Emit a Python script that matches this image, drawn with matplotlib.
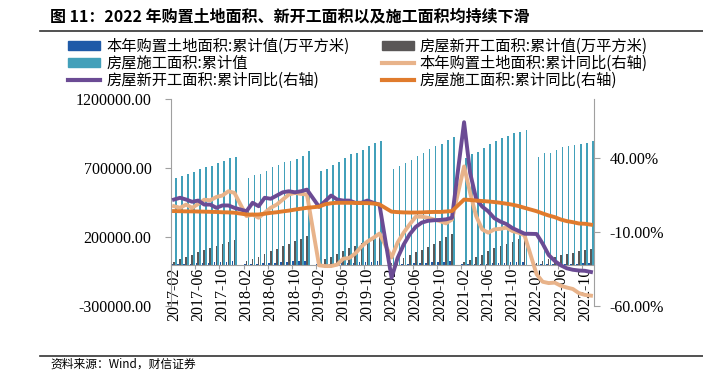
import numpy as np
import matplotlib
matplotlib.use("Agg")
import matplotlib.pyplot as plt
from matplotlib.patches import Patch
from matplotlib.lines import Line2D
from matplotlib.ticker import FuncFormatter

plt.rcParams['font.family'] = ['Liberation Serif', 'Noto Sans CJK SC']

nan = np.nan

# 月份: 2017-02 ~ 2022-11 (1月无数据)
months = []
for y in range(2017, 2023):
    first = 2 if y == 2017 else 1
    last = 11 if y == 2022 else 12
    for m in range(first, last + 1):
        months.append(f"{y}-{m:02d}")

# 本年购置土地面积:累计值(万平方米)
land_area = [2834, 4500, 5900, 7900, 10500, 12400, 14600, 17200, 19500, 22400, 25508,
             nan, 2966, 5000, 6400, 8600, 11500, 13800, 16600, 19900, 23000, 25900, 29142,
             nan, 1956, 3300, 4300, 5800, 8300, 10100, 12500, 15900, 19200, 22200, 25822,
             nan, 1900, 3100, 4000, 5500, 8100, 9900, 12400, 15600, 19100, 22000, 25536,
             nan, 2400, 3400, 4000, 5000, 7200, 8900, 11100, 14500, 17000, 19400, 21590,
             nan, 1400, 1900, 2100, 2800, 3700, 4600, 5700, 6800, 8000, 9000]

# 房屋新开工面积:累计值(万平方米)
new_area = [22000, 38000, 53000, 69000, 89000, 104000, 118000, 134000, 151000, 165000, 178654,
            nan, 25000, 42000, 58000, 78000, 97000, 116000, 136000, 152000, 171000, 188000, 209342,
            nan, 19000, 38000, 55000, 75000, 100000, 117000, 137000, 158000, 180000, 203000, 230000,
            nan, 10400, 28200, 45000, 68000, 89000, 108000, 128000, 152000, 172000, 200000, 224433,
            nan, 17000, 36000, 53000, 73000, 101000, 118000, 135000, 152000, 166000, 183000, 195000,
            nan, 15000, 26000, 39000, 52000, 66000, 76000, 85000, 95000, 104000, 113000]

# 房屋施工面积:累计值
con_area = [626000, 641000, 657000, 672000, 691000, 708000, 717000, 735000, 752000, 769000, 781000,
            nan, 625000, 647000, 660000, 679000, 705000, 723000, 740000, 750000, 766000, 790000, 822000,
            nan, 679000, 696000, 723000, 745000, 772000, 800000, 812000, 832000, 861000, 878000, 894000,
            nan, 691000, 715000, 735000, 759000, 786000, 810000, 837000, 856000, 873000, 903000, 927000,
            nan, 769000, 800000, 815000, 842000, 873000, 893000, 915000, 935000, 951000, 960000, 975000,
            nan, 781000, 808000, 812000, 830000, 849000, 859000, 866000, 873000, 881000, 893000]

# 本年购置土地面积:累计同比(%)
land_yoy = [7.5, 6.4, 8.6, 6.4, 9.0, 11.9, 11.5, 13.7, 14.7, 17.6, 16.5,
            nan, 0.8, 1.9, -0.3, 3.1, 6.4, 8.6, 12.0, 15.4, 16.5, 15.8, 15.4,
            nan, -32.5, -33.0, -33.0, -32.0, -28.0, -27.5, -24.5, -19.8, -16.4, -13.9, -11.0,
            nan, -27.2, -17.1, -10.4, -4.8, 0.4, 0.4, -0.3, -1.5, -2.6, -4.1, -1.5,
            nan, 34.4, 16.5, 0.8, -8.2, -10.4, -8.2, -7.8, -7.0, -9.3, -10.4, -12.2,
            nan, -38.5, -43.6, -44.5, -44.2, -46.3, -47.5, -48.5, -51.3, -52.5, -53.0]

# 房屋新开工面积:累计同比(%)
new_yoy = [12.0, 13.2, 12.0, 10.5, 11.3, 8.6, 8.6, 6.4, 8.0, 8.0, 6.4,
           nan, 4.1, 9.8, 7.5, 13.2, 12.5, 14.7, 16.9, 17.6, 16.9, 17.6, 18.7,
           nan, 7.1, 10.9, 14.7, 12.0, 11.3, 11.3, 9.8, 9.8, 11.3, 9.8, 8.5,
           nan, -41.0, -27.5, -18.5, -11.5, -6.5, -3.6, -2.4, -2.0, -1.8, -1.4, -0.3,
           nan, 64.3, 30.0, 12.5, 7.2, 4.0, -0.6, -2.9, -4.6, -7.3, -9.2, -11.1,
           nan, -11.3, -17.8, -25.5, -29.5, -32.5, -34.5, -35.5, -36.0, -36.2, -37.0]

# 房屋施工面积:累计同比(%)
con_yoy = [4.2, 4.1, 4.0, 4.0, 3.9, 3.8, 3.7, 3.6, 3.4, 3.3, 3.1,
           nan, 1.9, 1.8, 1.9, 2.4, 3.0, 3.4, 4.0, 4.5, 5.2, 5.8, 6.4,
           nan, 7.2, 8.8, 9.5, 9.8, 9.8, 9.8, 9.7, 9.6, 9.6, 9.3, 8.7,
           nan, 3.8, 3.5, 3.3, 3.2, 3.2, 3.3, 3.5, 3.6, 3.6, 3.9, 4.2,
           nan, 12.0, 11.7, 11.3, 11.0, 10.7, 10.3, 9.8, 9.2, 8.5, 7.6, 6.4,
           nan, 4.1, 2.6, 1.2, 0.1, -1.5, -2.6, -3.3, -4.2, -4.4, -5.0]

c_blue = '#1F5AA8'
c_grey = '#5A5757'
c_teal = '#42A0BA'
c_peach = '#E8B38A'
c_purple = '#6B4B94'
c_orange = '#E07B2D'
c_axis = '#A0A0A0'

fig = plt.figure(figsize=(7.03, 3.71), dpi=100)
ax = fig.add_axes([171 / 703, 1 - 306 / 371, 423 / 703, 207 / 371])
ax2 = ax.twinx()

x = np.arange(len(months))
w = 0.27
ax.bar(x - 0.3, land_area, w, color=c_blue, zorder=2)
ax.bar(x, new_area, w, color=c_grey, zorder=2)
ax.bar(x + 0.3, con_area, w, color=c_teal, zorder=2)

ax.set_xlim(-0.5, len(months) - 0.5)
ax.set_ylim(-300000, 1200000)
ax.set_yticks([-300000, 200000, 700000, 1200000])
ax.yaxis.set_major_formatter(FuncFormatter(lambda v, p: f"{v:.2f}"))

# x 轴放在 0 处
ax.spines['bottom'].set_position(('data', 0))
for s in ['top', 'right']:
    ax.spines[s].set_visible(False)
for s in ['left', 'bottom']:
    ax.spines[s].set_color(c_axis)
ax.set_xticks(np.arange(-0.5, len(months), 4))
ax.set_xticklabels([])
ax.set_xticks(x[::4], minor=True)
ax.set_xticklabels(months[::4], minor=True, rotation=90, fontsize=11.5)
ax.tick_params(axis='x', which='major', length=3, color=c_axis, direction='out')
ax.tick_params(axis='x', which='minor', length=0, pad=2)
ax.tick_params(axis='y', length=4, color=c_axis, labelsize=11.5, pad=10)

def draw_line(vals, color):
    v = np.array(vals, dtype=float)
    m = ~np.isnan(v)
    ax2.plot(x[m], v[m], color=color, lw=2.8, solid_joinstyle='round', zorder=3)

draw_line(land_yoy, c_peach)
draw_line(new_yoy, c_purple)
draw_line(con_yoy, c_orange)

ax2.set_ylim(-60, 80)
ax2.set_yticks([-60, -10, 40])
ax2.yaxis.set_major_formatter(FuncFormatter(lambda v, p: f"{v:.2f}%"))
for s in ['top', 'bottom', 'left']:
    ax2.spines[s].set_visible(False)
ax2.spines['right'].set_color(c_axis)
ax2.tick_params(axis='y', length=4, color=c_axis, labelsize=11.5, pad=7)

# 图例
cjk = ['Noto Sans CJK SC', 'DejaVu Sans']
handles = [
    Patch(color=c_blue),
    Patch(color=c_teal),
    Line2D([], [], color=c_purple, lw=3),
    Patch(color=c_grey),
    Line2D([], [], color=c_peach, lw=3),
    Line2D([], [], color=c_orange, lw=3),
]
labels = [
    '本年购置土地面积:累计值(万平方米)',
    '房屋施工面积:累计值',
    '房屋新开工面积:累计同比(右轴)',
    '房屋新开工面积:累计值(万平方米)',
    '本年购置土地面积:累计同比(右轴)',
    '房屋施工面积:累计同比(右轴)',
]
fig.legend(handles, labels, ncol=2, loc='upper left',
           bbox_to_anchor=(68 / 703, 1 - 38 / 371), frameon=False,
           prop={'family': cjk, 'size': 11}, handlelength=2.1,
           handleheight=0.6, handletextpad=0.4, labelspacing=0.0,
           columnspacing=2.1, borderpad=0, borderaxespad=0)

# 标题与来源
fig.text(50 / 703, 1 - 17 / 371, '图 11：2022 年购置土地面积、新开工面积以及施工面积均持续下滑',
         fontsize=11.5, fontweight='bold', family=cjk, va='center', ha='left')
fig.add_artist(Line2D([40 / 703, 1], [1 - 31 / 371, 1 - 31 / 371], color='#333333', lw=1.2))
fig.add_artist(Line2D([40 / 703, 1], [1 - 356 / 371, 1 - 356 / 371], color='#333333', lw=1.2))
fig.text(50 / 703, 1 - 364 / 371, '资料来源：Wind，财信证券', fontsize=8.5, family=cjk,
         style='italic', va='center', ha='left')

fig.savefig('out.png', dpi=100)
